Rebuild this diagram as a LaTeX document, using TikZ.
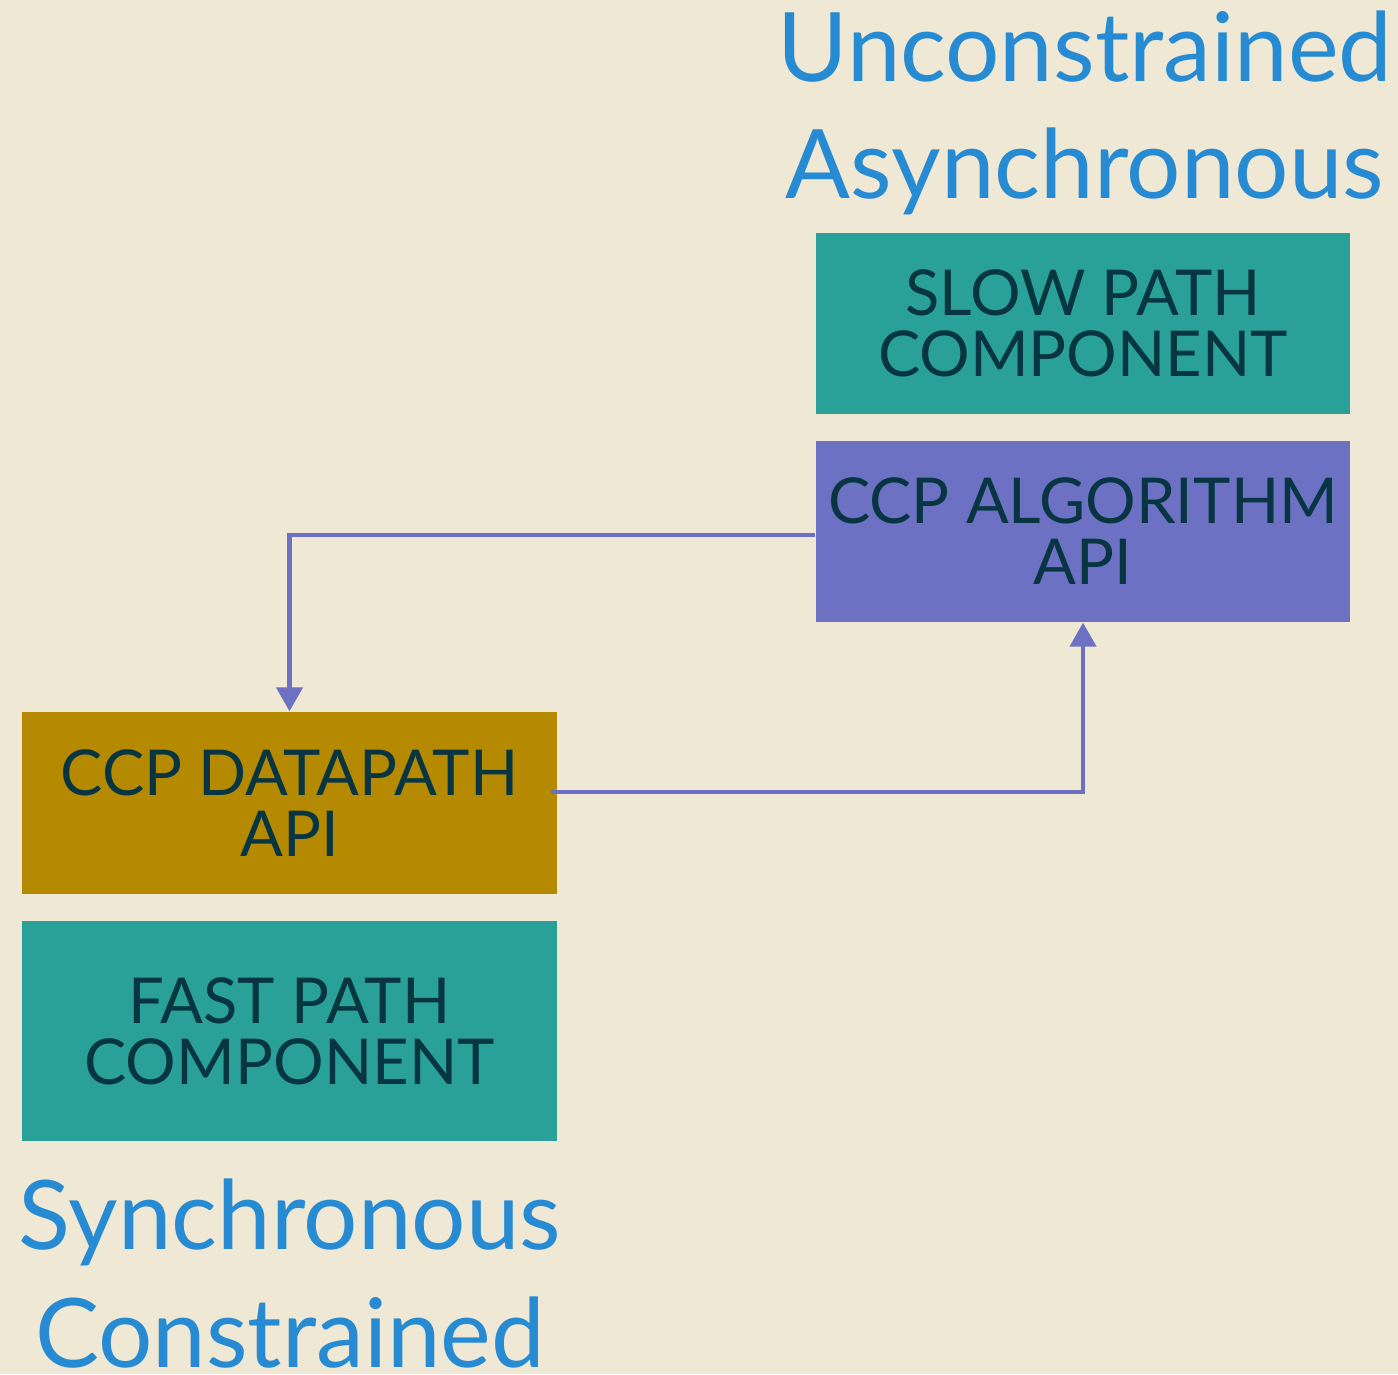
\documentclass[tikz,border=0pt]{standalone}
\usepackage{fontspec}
\setmainfont{Lato}
\usetikzlibrary{arrows.meta,calc}
\definecolor{bgcream}{HTML}{EEE8D5}
\definecolor{boxteal}{HTML}{2AA198}
\definecolor{boxviolet}{HTML}{6C71C4}
\definecolor{boxyellow}{HTML}{B58900}
\definecolor{boxtext}{HTML}{073642}
\definecolor{titleblue}{HTML}{268BD2}
\tikzset{
  block/.style={minimum width=5.34cm, minimum height=1.81cm, inner sep=0pt,
    align=center, text=boxtext, font=\fontsize{18.0}{17.4}\selectfont},
  heading/.style={align=center, text=titleblue, inner sep=0pt,
    font=\fontsize{27.3}{33.3}\selectfont},
  link/.style={draw=boxviolet, line width=0.045cm,
    -{Triangle[width=0.26cm,length=0.24cm]}},
}
\begin{document}
\begin{tikzpicture}
\fill[bgcream] (0,0) rectangle (13.98,13.74);
\useasboundingbox (0,0) rectangle (13.98,13.74);

% headings (anchored at the baseline of their last line)
\node[heading, anchor=base] (async) at (10.85,11.75) {Unconstrained\\Asynchronous};
\node[heading, anchor=base] (sync) at (2.9,0.07) {Synchronous\\Constrained};

% blocks
\node[block, fill=boxteal] (slow) at (10.83,10.505) {SLOW PATH\\COMPONENT};
\node[block, fill=boxviolet] (algo) at (10.83,8.425) {CCP ALGORITHM\\API};
\node[block, fill=boxyellow, minimum width=5.35cm, minimum height=1.82cm] (dp) at (2.895,5.71) {CCP DATAPATH\\API};
\node[block, fill=boxteal, minimum width=5.35cm, minimum height=2.20cm] (fast) at (2.895,3.43) {FAST PATH\\COMPONENT};

% connectors
\coordinate (algoout) at ($(algo.west)+(0,-0.035)$);
\coordinate (dpout) at ($(dp.east)+(-0.07,0.11)$);
\draw[link] (algoout) -| (dp.north);
\draw[link] (dpout) -| (algo.south);
\end{tikzpicture}
\end{document}
